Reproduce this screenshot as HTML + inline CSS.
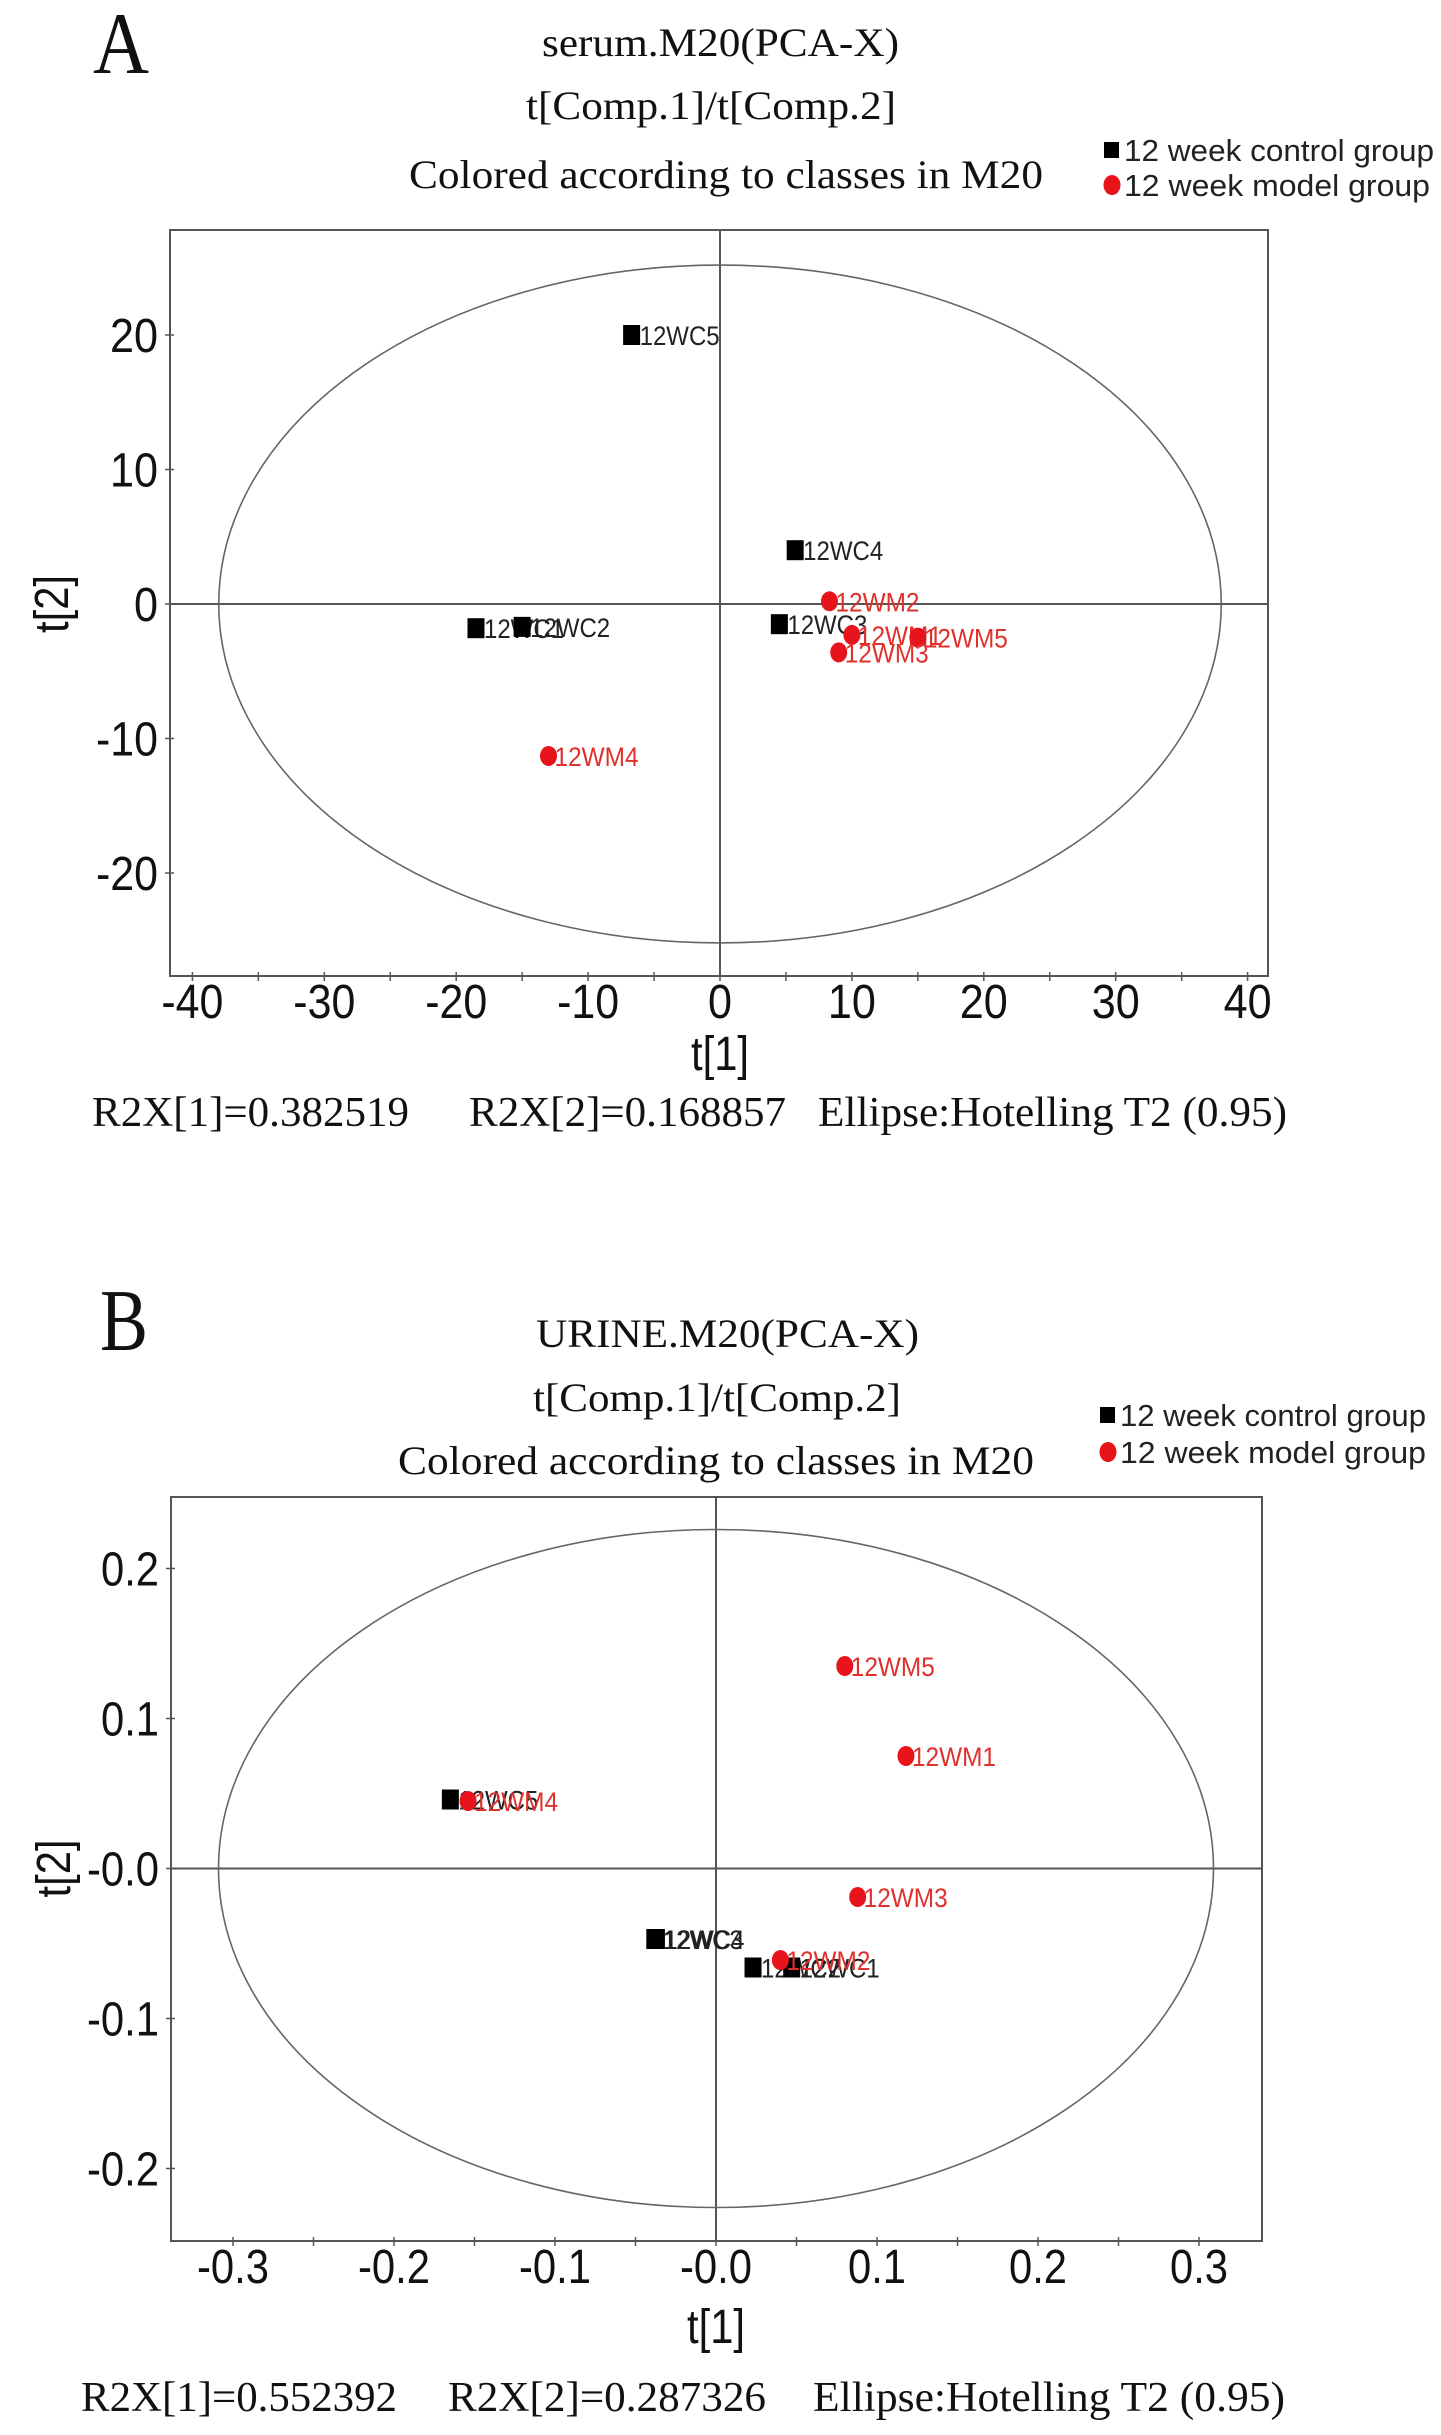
<!DOCTYPE html>
<html><head><meta charset="utf-8">
<style>
html,body{margin:0;padding:0;background:#fff;}
svg{display:block;}
.serif{font-family:"Liberation Serif",serif;fill:#111;}
.sans{font-family:"Liberation Sans",sans-serif;}
</style></head>
<body>
<svg id="fig" width="1441" height="2435" viewBox="0 0 1441 2435" xmlns="http://www.w3.org/2000/svg">
<rect width="1441" height="2435" fill="#fff"/>
</svg>
<script>
// ---- Panel A data (serum) ----
const aCtrlLabels = ["12WC5","12WC4","12WC3","12WC1","12WC2"];
const aCtrlX = [-6.7, 5.7, 4.5, -18.5, -15.0];
const aCtrlY = [20.0, 4.0, -1.5, -1.8, -1.7];
const aModelLabels = ["12WM2","12WM1","12WM5","12WM3","12WM4"];
const aModelX = [8.3, 10.0, 15.0, 9.0, -13.0];
const aModelY = [0.2, -2.3, -2.5, -3.6, -11.3];
const aXTicks = [-40,-30,-20,-10,0,10,20,30,40];
const aXTickLabels = ["-40","-30","-20","-10","0","10","20","30","40"];
const aYTicks = [20,10,0,-10,-20];
const aYTickLabels = ["20","10","0","-10","-20"];
const aEllipse = [38.0, 25.2];
// ---- Panel B data (urine) ----
const bCtrlLabels = ["12WC5","12WC4","12WC3","12WC2","12WC1"];
const bCtrlX = [-0.165, -0.037, -0.038, 0.023, 0.047];
const bCtrlY = [0.046, -0.047, -0.047, -0.066, -0.066];
const bModelLabels = ["12WM5","12WM1","12WM4","12WM3","12WM2"];
const bModelX = [0.080, 0.118, -0.154, 0.088, 0.040];
const bModelY = [0.135, 0.075, 0.045, -0.019, -0.061];
const bXTicks = [-0.3,-0.2,-0.1,0,0.1,0.2,0.3];
const bXTickLabels = ["-0.3","-0.2","-0.1","-0.0","0.1","0.2","0.3"];
const bYTicks = [0.2,0.1,0,-0.1,-0.2];
const bYTickLabels = ["0.2","0.1","-0.0","-0.1","-0.2"];
const bEllipse = [0.309, 0.226];

const NS = "http://www.w3.org/2000/svg";
const svg = document.getElementById("fig");
function mk(tag, attrs, parent){
  const e = document.createElementNS(NS, tag);
  for (const k in attrs) e.setAttribute(k, attrs[k]);
  (parent||svg).appendChild(e);
  return e;
}
function txt(str, attrs, parent){
  const e = mk("text", attrs, parent);
  e.textContent = str;
  return e;
}
function tickW(s){
  let w = 0;
  for (const ch of s) w += ch === '-' ? 14 : (ch === '.' ? 10 : 24);
  return w;
}

function panel(cfg){
  const g = mk("g", {});
  
  
  const sx = v => cfg.x0 + v * cfg.kx;
  const sy = v => cfg.y0 - v * cfg.ky;

  const L = txt(cfg.letter, {x:cfg.letterX, y:cfg.letterY, class:"serif", "font-size":88, textLength:cfg.letterW, lengthAdjust:"spacingAndGlyphs"}, g);
  
  
  cfg.titles.forEach((t,i)=>{
    const e = txt(t[0], {x:t[1], y:t[2], class:"serif", "font-size":40, textLength:t[3], lengthAdjust:"spacingAndGlyphs"}, g);
    
    
  });
  const lg = mk("g", {}, g);
  
  
  const ls = mk("rect", {x:cfg.legX-8, y:cfg.legY1-8, width:15, height:16, fill:"#000"}, lg);
  
  
  const lt1 = txt("12 week control group", {x:cfg.legX+12, y:cfg.legY1+11, class:"sans", "font-size":31, fill:"#222", textLength:cfg.legW, lengthAdjust:"spacingAndGlyphs"}, lg);
  
  
  const lc = mk("ellipse", {cx:cfg.legX, cy:cfg.legY2, rx:8.5, ry:10, fill:"#e8141b"}, lg);
  
  
  const lt2 = txt(cfg.modelLegend, {x:cfg.legX+12, y:cfg.legY2+11, class:"sans", "font-size":31, fill:"#222", textLength:cfg.legW2, lengthAdjust:"spacingAndGlyphs"}, lg);
  
  

  const fr = mk("rect", {x:cfg.fl, y:cfg.ft, width:cfg.fr-cfg.fl, height:cfg.fb-cfg.ft, fill:"none", stroke:"#555", "stroke-width":2}, g);
  
  
  const hz = mk("line", {x1:cfg.fl, x2:cfg.fr, y1:sy(0), y2:sy(0), stroke:"#555", "stroke-width":2}, g);
  
  
  const vz = mk("line", {x1:sx(0), x2:sx(0), y1:cfg.ft, y2:cfg.fb, stroke:"#555", "stroke-width":2}, g);
  
  
  const el = mk("ellipse", {cx:sx(0), cy:sy(0), rx:cfg.ell[0]*cfg.kx, ry:cfg.ell[1]*cfg.ky, fill:"none", stroke:"#666", "stroke-width":1.6}, g);
  
  

  cfg.xt.forEach((v,i)=>{
    const tk = mk("line", {x1:sx(v), x2:sx(v), y1:cfg.fb-4, y2:cfg.fb+5, stroke:"#555", "stroke-width":1.5}, g);
    
    
    if (i < cfg.xt.length-1) {
      const mv = (v + cfg.xt[i+1]) / 2;
      const mt = mk("line", {x1:sx(mv), x2:sx(mv), y1:cfg.fb-4, y2:cfg.fb+5, stroke:"#555", "stroke-width":1.5}, g);
      
      
    }
    const lab = cfg.xl[i];
    const t = txt(lab, {x:sx(v), y:cfg.fb+42, class:"sans", "font-size":48, fill:"#111", "text-anchor":"middle", textLength:tickW(lab), lengthAdjust:"spacingAndGlyphs"}, g);
    
    
  });
  cfg.yt.forEach((v,i)=>{
    const tk = mk("line", {x1:cfg.fl-5, x2:cfg.fl+4, y1:sy(v), y2:sy(v), stroke:"#555", "stroke-width":1.5}, g);
    
    
    const lab = cfg.yl[i];
    const t = txt(lab, {x:cfg.fl-12, y:sy(v)+17, class:"sans", "font-size":48, fill:"#111", "text-anchor":"end", textLength:tickW(lab), lengthAdjust:"spacingAndGlyphs"}, g);
    
    
  });
  const xa = txt("t[1]", {x:sx(0), y:cfg.xTitleY, class:"sans", "font-size":48, fill:"#111", "text-anchor":"middle", textLength:58, lengthAdjust:"spacingAndGlyphs"}, g);
  
  
  const ya = txt("t[2]", {x:0, y:0, class:"sans", "font-size":48, fill:"#111", "text-anchor":"middle", textLength:58, lengthAdjust:"spacingAndGlyphs", transform:`translate(${cfg.yTitleX},${sy(0)}) rotate(-90)`}, g);
  
  

  cfg.cx.forEach((v,i)=>{
    const px = sx(v), py = sy(cfg.cy[i]);
    const r = mk("rect", {x:px-8.5, y:py-10, width:17, height:20, fill:"#000"}, g);
    
    
    const t = txt(cfg.cl[i], {x:px+8, y:py+10, class:"sans", "font-size":27, fill:"#222", textLength:80, lengthAdjust:"spacingAndGlyphs"}, g);
    
    
  });
  cfg.mx.forEach((v,i)=>{
    const px = sx(v), py = sy(cfg.my[i]);
    const c = mk("ellipse", {cx:px, cy:py, rx:8.5, ry:10, fill:"#e8141b"}, g);
    
    
    const t = txt(cfg.ml[i], {x:px+6, y:py+10, class:"sans", "font-size":27, fill:"#e0302c", textLength:84, lengthAdjust:"spacingAndGlyphs"}, g);
    
    
  });

  cfg.footer.forEach(f=>{
    const t = txt(f[0], {x:f[1], y:cfg.footY, class:"serif", "font-size":42, textLength:f[2]-f[1], lengthAdjust:"spacingAndGlyphs"}, g);
    
    
  });
}

panel({
  name:"panel-a-serum-pca", letter:"A", letterX:93, letterY:73, letterW:56,
  titles:[["serum.M20(PCA-X)",542,56,357],["t[Comp.1]/t[Comp.2]",526,119,370],["Colored according to classes in M20",409,188,634]],
  legX:1112, legY1:150, legY2:185, legW:310, legW2:306, modelLegend:"12 week model group",
  fl:170, fr:1268, ft:230, fb:976,
  x0:720, kx:13.19, y0:604, ky:13.45,
  ell:aEllipse, xt:aXTicks, xl:aXTickLabels, yt:aYTicks, yl:aYTickLabels,
  xTitleY:1070, yTitleX:68,
  cx:aCtrlX, cy:aCtrlY, cl:aCtrlLabels, mx:aModelX, my:aModelY, ml:aModelLabels,
  footY:1126,
  footer:[["R2X[1]=0.382519",92,409],["R2X[2]=0.168857",469,786],["Ellipse:Hotelling T2 (0.95)",818,1287]]
});
panel({
  name:"panel-b-urine-pca", letter:"B", letterX:100, letterY:1350, letterW:48,
  titles:[["URINE.M20(PCA-X)",536,1347,383],["t[Comp.1]/t[Comp.2]",533,1411,368],["Colored according to classes in M20",398,1474,636]],
  legX:1108, legY1:1415, legY2:1452, legW:306, legW2:306, modelLegend:"12 week model  group",
  fl:171, fr:1262, ft:1497, fb:2241,
  x0:716, kx:1610, y0:1868.5, ky:1500,
  ell:bEllipse, xt:bXTicks, xl:bXTickLabels, yt:bYTicks, yl:bYTickLabels,
  xTitleY:2343, yTitleX:70,
  cx:bCtrlX, cy:bCtrlY, cl:bCtrlLabels, mx:bModelX, my:bModelY, ml:bModelLabels,
  footY:2411,
  footer:[["R2X[1]=0.552392",81,397],["R2X[2]=0.287326",448,766],["Ellipse:Hotelling T2 (0.95)",813,1285]]
});
</script>
</body></html>
